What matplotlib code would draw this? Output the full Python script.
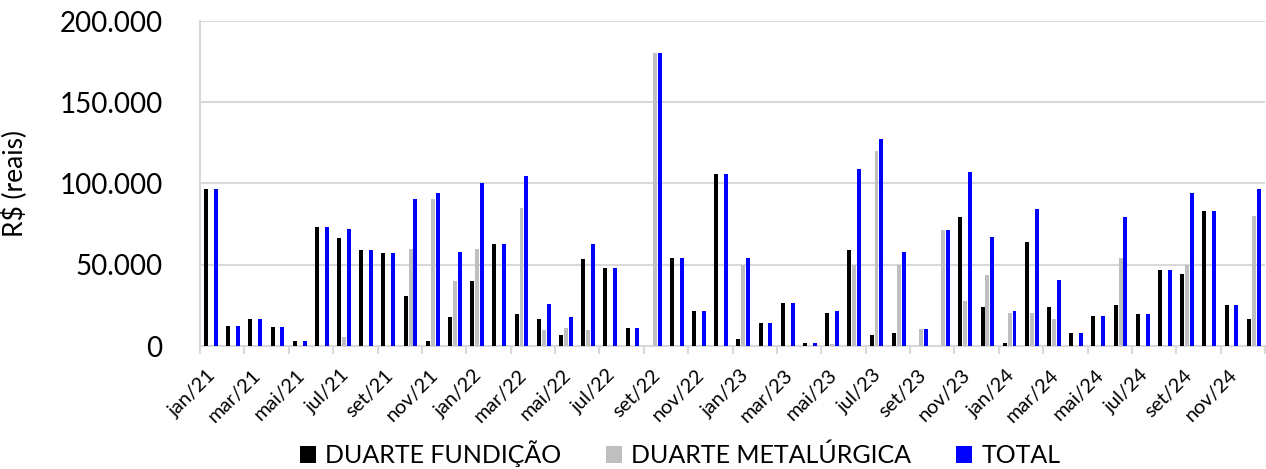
import numpy as np
import matplotlib
matplotlib.use('Agg')
import matplotlib.pyplot as plt
from matplotlib.ticker import FuncFormatter

plt.rcParams['font.family'] = ['Lato', 'DejaVu Sans']

MESES = ['jan', 'fev', 'mar', 'abr', 'mai', 'jun', 'jul', 'ago', 'set', 'out', 'nov', 'dez']
meses = [f'{m}/{a}' for a in ['21', '22', '23', '24'] for m in MESES]

# valores em R$ mil
fundicao = [96.4, 12.3, 16.4, 11.7, 3.3, 73.4, 66.7, 59.3, 57.4, 30.8, 3.3, 17.6,
            40.2, 63.0, 19.9, 16.4, 6.6, 53.3, 47.8, 11.3, 0, 54.4, 21.3, 105.8,
            4.1, 14.4, 26.7, 1.6, 20.1, 58.9, 7.0, 8.2, 0, 0, 79.2, 23.8,
            1.6, 64.2, 24.2, 8.2, 18.7, 25.4, 19.9, 46.6, 44.1, 82.9, 25.4, 16.8]
metalurgica = [0, 0, 0, 0, 0, 0, 5.3, 0, 0, 59.9, 90.7, 39.8,
               59.9, 0, 84.9, 9.6, 10.9, 9.6, 0, 0, 180.0, 0, 0, 0,
               49.8, 0, 0, 0, 1.2, 49.8, 120.0, 49.8, 10.7, 71.2, 27.5, 43.5,
               20.1, 20.1, 16.4, 0, 0, 53.9, 0, 0, 49.8, 0, 0, 79.8]
total = [96.4, 12.3, 16.4, 11.7, 3.3, 73.4, 72.2, 59.3, 57.4, 90.7, 94.2, 57.6,
         100.2, 63.0, 104.9, 26.1, 17.6, 63.0, 47.8, 11.3, 180.0, 54.4, 21.3, 105.8,
         54.0, 14.4, 26.7, 1.6, 21.5, 108.9, 127.1, 58.1, 10.7, 71.2, 106.9, 67.1,
         21.5, 84.2, 40.6, 8.2, 18.7, 79.5, 19.9, 46.6, 94.1, 82.9, 25.4, 96.8]

series = [('DUARTE FUNDIÇÃO', fundicao, '#000000'),
          ('DUARTE METALÚRGICA', metalurgica, '#bfbfbf'),
          ('TOTAL', total, '#0000ff')]
offsets = [-0.23, -0.01, 0.21]
GRID = '#d9d9d9'

fig = plt.figure(figsize=(12.66, 4.69), dpi=100)
ax = fig.add_axes([200/1266, 1-346/469, 1065/1266, 325/469])

x = np.arange(len(meses))
for (nome, vals, cor), off in zip(series, offsets):
    ax.bar(x + off, np.array(vals) * 1000, width=0.18, color=cor, label=nome, zorder=3)

ax.set_xlim(-0.5, len(meses) - 0.5)
ax.set_ylim(0, 200000)
ax.set_yticks(np.arange(0, 200001, 50000))
ax.yaxis.set_major_formatter(FuncFormatter(lambda v, p: f'{int(v):,}'.replace(',', '.')))
ax.yaxis.grid(True, color=GRID, lw=1.5, zorder=0)
ax.tick_params(axis='y', length=0, pad=27, labelsize=20)

ax.set_xticks(x[::2] + 0.1)
ax.set_xticklabels(meses[::2], rotation=45, ha='right', va='center', rotation_mode='anchor')
ax.set_xticks(np.arange(-0.5, len(meses), 2), minor=True)
ax.tick_params(axis='x', which='major', length=0, pad=19, labelsize=14.5)
ax.tick_params(axis='x', which='minor', length=6, width=1.5, color=GRID)

for s in ['top', 'right']:
    ax.spines[s].set_visible(False)
for s in ['left', 'bottom']:
    ax.spines[s].set_color(GRID)
    ax.spines[s].set_linewidth(1.5)

ax.set_ylabel('R$ (reais)', fontsize=19)
ax.yaxis.set_label_coords(-172/1065, 0.5)

fig.legend(loc='center', bbox_to_anchor=(680/1266, 1-454/469), ncol=3, frameon=False,
           fontsize=18, handlelength=0.65, handleheight=0.65, handletextpad=0.36,
           columnspacing=1.8, borderaxespad=0)

fig.savefig('out.png', dpi=100)
